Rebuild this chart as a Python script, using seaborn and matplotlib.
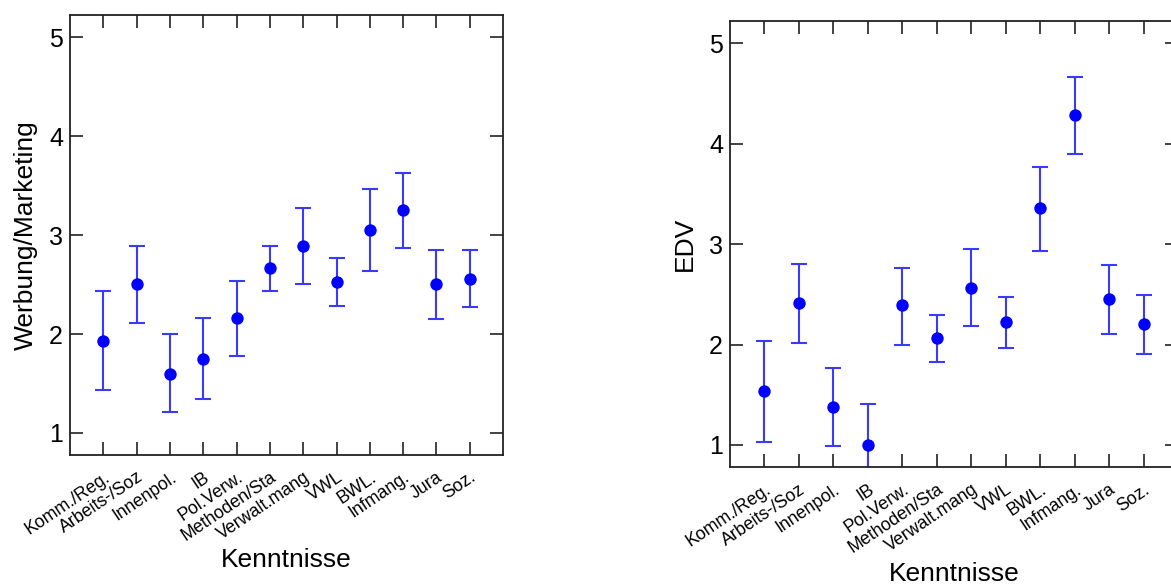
import numpy as np
import pandas as pd
import matplotlib
matplotlib.use("Agg")
import matplotlib.pyplot as plt
import seaborn as sns

# Knowledge areas (x axis)
categories = ["Komm./Reg.", "Arbeits-/Soz", "Innenpol.", "IB", "Pol.Verw.",
              "Methoden/Sta", "Verwalt.mang", "VWL", "BWL.", "Infmang.",
              "Jura", "Soz."]

# Werbung/Marketing: mean with lower / upper interval bounds
werbung_mean = [1.93, 2.51, 1.60, 1.75, 2.16, 2.67, 2.89, 2.53, 3.05, 3.25, 2.51, 2.56]
werbung_low = [1.43, 2.11, 1.21, 1.34, 1.78, 2.44, 2.51, 2.28, 2.64, 2.87, 2.15, 2.27]
werbung_high = [2.44, 2.89, 2.00, 2.16, 2.54, 2.89, 3.27, 2.77, 3.47, 3.63, 2.85, 2.85]

# EDV: mean with lower / upper interval bounds
edv_mean = [1.54, 2.41, 1.38, 1.00, 2.39, 2.06, 2.56, 2.22, 3.36, 4.29, 2.45, 2.20]
edv_low = [1.03, 2.02, 0.99, 0.59, 2.00, 1.83, 2.18, 1.97, 2.93, 3.90, 2.10, 1.91]
edv_high = [2.04, 2.80, 1.77, 1.41, 2.76, 2.29, 2.95, 2.47, 3.77, 4.66, 2.79, 2.49]

y_ticks = [1, 2, 3, 4, 5]

sns.set_theme(style="ticks")
plt.rcParams["font.family"] = ["Liberation Sans", "DejaVu Sans"]
plt.rcParams.update({
    "text.color": "black",
    "axes.labelcolor": "black",
    "xtick.color": "black",
    "ytick.color": "black",
})

fig = plt.figure(figsize=(11.71, 5.84), dpi=100)
ax_left = fig.add_axes([0.0598, 0.2214, 0.3698, 0.7526])
ax_right = fig.add_axes([0.6234, 0.2003, 0.3826, 0.7643])

blue = "#0000ff"
bar_blue = "#3a3aff"


def draw_panel(ax, mean, low, high, ylabel):
    pos = np.arange(1, len(categories) + 1)
    df = pd.DataFrame({"pos": pos, "mean": mean, "low": low, "high": high})
    err = np.vstack([df["mean"] - df["low"], df["high"] - df["mean"]])
    ax.errorbar(df["pos"], df["mean"], yerr=err, fmt="none", ecolor=bar_blue,
                elinewidth=1.5, capsize=6, capthick=1.5, zorder=2)
    sns.scatterplot(data=df, x="pos", y="mean", ax=ax, color=blue, s=80,
                    edgecolor=blue, linewidth=0, zorder=3, legend=False)
    ax.set_xlim(0, len(categories) + 1)
    ax.set_ylim(0.78, 5.225)
    ax.set_xticks(pos)
    ax.set_xticklabels(categories, rotation=34, ha="right",
                       rotation_mode="anchor", fontsize=12.8)
    ax.set_yticks(y_ticks)
    ax.set_yticklabels([str(t) for t in y_ticks], fontsize=18)
    ax.tick_params(direction="in", length=9.5, width=1.2, color="#222222",
                   top=True, right=True, labeltop=False, labelright=False)
    ax.tick_params(axis="y", pad=5)
    ax.tick_params(axis="x", pad=10)
    for sp in ax.spines.values():
        sp.set_linewidth(1.3)
        sp.set_color("#222222")
    ax.set_xlabel("Kenntnisse", fontsize=19)
    ax.set_ylabel(ylabel, fontsize=19)
    ax.xaxis.set_label_coords(0.5, -0.212)
    ax.yaxis.set_label_coords(-0.074, 0.5)


draw_panel(ax_left, werbung_mean, werbung_low, werbung_high, "Werbung/Marketing")
draw_panel(ax_right, edv_mean, edv_low, edv_high, "EDV")

fig.savefig("out.png", dpi=100, facecolor="white")
